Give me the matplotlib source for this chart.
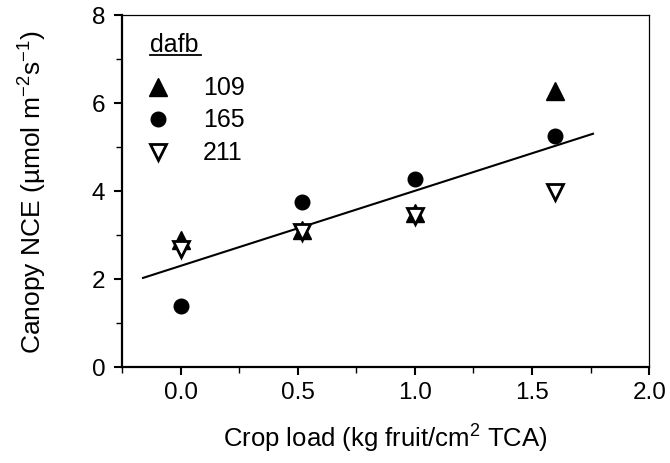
import numpy as np
import matplotlib
matplotlib.use('Agg')
import matplotlib.pyplot as plt
from matplotlib.ticker import MultipleLocator, FormatStrFormatter

plt.rcParams['font.family'] = ['Liberation Sans', 'DejaVu Sans']
plt.rcParams['mathtext.fontset'] = 'custom'
plt.rcParams['mathtext.rm'] = 'Liberation Sans'
plt.rcParams['mathtext.it'] = 'Liberation Sans:italic'

# Crop load (kg fruit/cm2 TCA)
crop_load = [0.0, 0.52, 1.0, 1.6]
# Canopy NCE by days after full bloom
nce_109 = [2.89, 3.10, 3.50, 6.26]
nce_165 = [1.39, 3.74, 4.26, 5.24]
nce_211 = [2.67, 3.07, 3.42, 3.97]
dafb_labels = ['109', '165', '211']
fit_range = [-0.16, 1.76]

fig = plt.figure(figsize=(6.7, 4.64), dpi=100)
ax = fig.add_axes([0.182, 0.207, 0.787, 0.759])

# regression over all points
x_all = np.array(crop_load * 3)
y_all = np.array(nce_109 + nce_165 + nce_211)
slope, intercept = np.polyfit(x_all, y_all, 1)
xf = np.linspace(fit_range[0], fit_range[1], 50)
ax.plot(xf, slope * xf + intercept, color='black', lw=1.5, zorder=2)

styles = [dict(marker='^', ms=12.5, color='black'),
          dict(marker='o', ms=10.5, color='black'),
          dict(marker='v', ms=11, mfc='white', mec='black', mew=2)]
for yvals, st, z in zip([nce_109, nce_165, nce_211], styles, [3, 3, 4]):
    ax.plot(crop_load, yvals, linestyle='none', zorder=z, **st)

ax.set_xlim(-0.25, 2.0)
ax.set_ylim(0, 8)
ax.xaxis.set_major_locator(MultipleLocator(0.5))
ax.xaxis.set_minor_locator(MultipleLocator(0.25))
ax.yaxis.set_major_locator(MultipleLocator(2))
ax.yaxis.set_minor_locator(MultipleLocator(1))
ax.xaxis.set_major_formatter(FormatStrFormatter('%.1f'))
ax.tick_params(which='major', direction='out', length=6, width=1.5, labelsize=17.5)
ax.tick_params(which='minor', direction='out', length=4, width=1)
ax.tick_params(axis='x', which='major', pad=4)
ax.tick_params(axis='y', which='major', pad=6)

for side in ['left', 'bottom']:
    ax.spines[side].set_linewidth(1.6)
for side in ['top', 'right']:
    ax.spines[side].set_linewidth(0.9)

ax.set_xlabel('Crop load (kg fruit/cm$^2$ TCA)', fontsize=18.5, labelpad=14)
ax.set_ylabel('Canopy NCE (µmol m$^{-2}$s$^{-1}$)', fontsize=19, labelpad=31)

# hand-built legend in axes coordinates
ax.text(0.053, 0.918, 'dafb', transform=ax.transAxes, fontsize=18,
        ha='left', va='center')
ax.plot([0.053, 0.150], [0.885, 0.885], transform=ax.transAxes, color='black',
        lw=1.3, clip_on=False)
rows_y = [0.795, 0.705, 0.611]
for lab, st, ry in zip(dafb_labels, styles, rows_y):
    ax.plot([0.068], [ry], transform=ax.transAxes, linestyle='none', **st)
    ax.text(0.154, ry, lab, transform=ax.transAxes, fontsize=18,
            ha='left', va='center')

fig.savefig('out.png', dpi=100)
